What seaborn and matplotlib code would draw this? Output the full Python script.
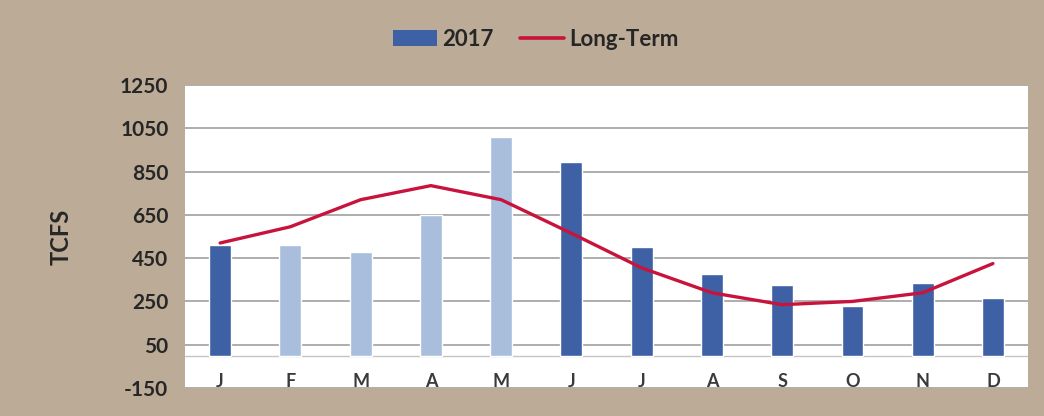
import matplotlib
matplotlib.use("Agg")
import matplotlib.pyplot as plt
import seaborn as sns
import numpy as np
import pandas as pd
from matplotlib.patches import Patch
from matplotlib.lines import Line2D

months = ["J", "F", "M", "A", "M", "J", "J", "A", "S", "O", "N", "D"]
flow_2017 = [510, 510, 480, 650, 1010, 895, 500, 375, 325, 230, 335, 265]
long_term = [520, 595, 720, 785, 720, 565, 405, 290, 235, 250, 290, 425]
bar_shade = ["dark", "light", "light", "light", "light", "dark", "dark", "dark", "dark", "dark", "dark", "dark"]
y_ticks = [-150, 50, 250, 450, 650, 850, 1050, 1250]

BG = "#bcab96"
DARK = "#3e60a4"
LIGHT = "#a9bedd"
RED = "#c8143c"
TXT = "#262626"

sns.set_theme(style="white")
plt.rcParams["font.family"] = ["Lato", "DejaVu Sans"]

fig = plt.figure(figsize=(10.44, 4.16), dpi=100, facecolor=BG)
ax = fig.add_axes([0.1772, 0.0673, 0.8075, 0.7284])
ax.set_facecolor("white")

df = pd.DataFrame({"idx": list(range(len(months))), "val": flow_2017,
                   "lt": long_term, "shade": bar_shade})
palette = [DARK if s == "dark" else LIGHT for s in bar_shade]
sns.barplot(data=df, x="idx", y="val", hue="idx", palette=palette,
            legend=False, width=0.31, ax=ax, zorder=3, saturation=1)
sns.lineplot(data=df, x="idx", y="lt", color=RED, linewidth=2.4, ax=ax,
             zorder=4)

ax.set_ylim(-150, 1250)
ax.set_xlim(-0.5, len(months) - 0.5)
ax.set_yticks(y_ticks)
ax.set_yticklabels([str(t) for t in y_ticks], fontsize=15, fontweight="bold",
                   color=TXT)
ax.yaxis.grid(True, color="#a0a0a0", linewidth=1.2, zorder=0)
ax.axhline(0, color="#c4c4c4", linewidth=1.0, zorder=1)
ax.set_axisbelow(True)
ax.set_xticks(range(len(months)))
ax.set_xticklabels(months, fontsize=13, fontweight="bold", color="#3a3a3a")
ax.tick_params(axis="x", length=0, pad=-11)
ax.tick_params(axis="y", length=0, pad=12)
for s in ax.spines.values():
    s.set_visible(False)
ax.set_xlabel("")
ax.set_ylabel("TCFS", fontsize=17, fontweight="bold", color=TXT, labelpad=34)

handles = [Patch(facecolor=DARK, edgecolor="none"),
           Line2D([0], [0], color=RED, linewidth=2.6)]
fig.legend(handles, ["2017", "Long-Term"], loc="center",
           bbox_to_anchor=(0.513, 0.905), ncol=2, frameon=False,
           prop={"weight": "bold", "size": 16}, handlelength=2.0,
           handletextpad=0.2, columnspacing=1.2, labelcolor=TXT)

fig.savefig("out.png", dpi=100, facecolor=BG)
